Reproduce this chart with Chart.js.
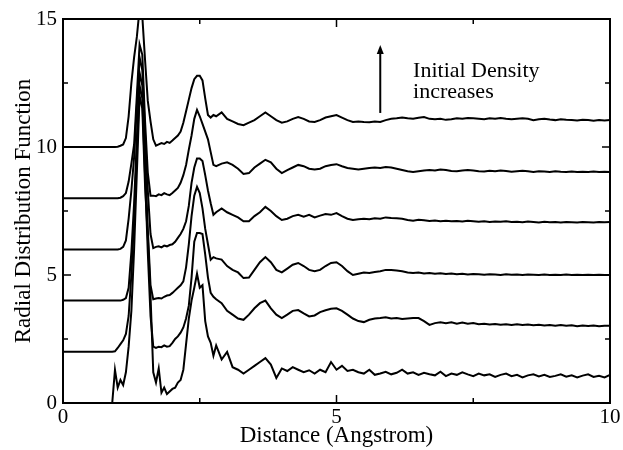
<!DOCTYPE html>
<html>
<head>
<meta charset="utf-8">
<title>Radial Distribution Function</title>
<script src="https://cdn.jsdelivr.net/npm/chart.js@4.4.1/dist/chart.umd.min.js"></script>
<style>
  html, body { margin: 0; padding: 0; background: #fff; }
  canvas { display: block; }
</style>
</head>
<body>
<canvas id="rdf" width="623" height="450"></canvas>
<script>
// r grid shared by every run (Angstrom)
const distance = [
  0, 0.8, 0.9, 0.95, 1.0, 1.05, 1.1, 1.15, 1.2, 1.25, 1.3, 1.35, 1.4,
  1.45, 1.5, 1.55, 1.6, 1.65, 1.7, 1.75, 1.8, 1.85, 1.9, 1.95, 2.0,
  2.05, 2.1, 2.15, 2.2, 2.25, 2.3, 2.35, 2.4, 2.45, 2.5, 2.55, 2.6,
  2.65, 2.7, 2.75, 2.8, 2.9, 3.0,
  3.1, 3.2, 3.3, 3.4, 3.5, 3.6, 3.7, 3.8, 3.9, 4.0,
  4.1, 4.2, 4.3, 4.4, 4.5, 4.6, 4.7, 4.8, 4.9, 5.0,
  5.1, 5.2, 5.3, 5.4, 5.5, 5.6, 5.7, 5.8, 5.9, 6.0,
  6.1, 6.2, 6.3, 6.4, 6.5, 6.6, 6.7, 6.8, 6.9, 7.0,
  7.1, 7.2, 7.3, 7.4, 7.5, 7.6, 7.7, 7.8, 7.9, 8.0,
  8.1, 8.2, 8.3, 8.4, 8.5, 8.6, 8.7, 8.8, 8.9, 9.0,
  9.1, 9.2, 9.3, 9.4, 9.5, 9.6, 9.7, 9.8, 9.9, 10.0
];

// g(r) of each run as plotted, lowest initial density first (stacked by 2)
const rdfRun1 = [
  0, 0, 0, 1.3, 0.6, 0.9, 0.7, 1.2, 2.2, 3.6, 6.0, 9.0, 12.0,
  11.5, 8.5, 6.5, 4.2, 1.2, 0.8, 1.35, 0.4, 0.6, 0.35, 0.45, 0.55,
  0.6, 0.8, 0.9, 1.3, 2.3, 3.3, 4.0, 4.5, 5.05, 4.5, 4.6, 3.2,
  2.6, 2.35, 1.85, 2.25, 1.7, 2.0,
  1.4, 1.3, 1.15, 1.3, 1.45, 1.6, 1.75, 1.5, 0.98, 1.35,
  1.25, 1.4, 1.3, 1.2, 1.28, 1.15, 1.3, 1.2, 1.6, 1.3,
  1.45, 1.25, 1.3, 1.2, 1.15, 1.3, 1.1, 1.15, 1.22, 1.12,
  1.18, 1.3, 1.15, 1.2, 1.1, 1.18, 1.12, 1.08, 1.22, 1.05,
  1.15, 1.1, 1.2, 1.12, 1.05, 1.15, 1.08, 1.12, 1.02, 1.1,
  1.15, 1.05, 1.1, 1.0, 1.08, 1.12, 1.04, 1.1, 1.02, 1.06,
  1.12, 1.03, 1.08, 1.0, 1.07, 1.12, 1.02, 1.06, 1.0, 1.1
];
const rdfRun2 = [
  2.0, 2.0, 2.0, 2.02, 2.15, 2.3, 2.45, 2.7, 3.4, 5.0, 7.2, 9.8, 12.4,
  11.9, 8.9, 5.9, 3.4, 2.2, 2.15, 2.2, 2.18, 2.25, 2.2, 2.22, 2.35,
  2.5, 2.6, 2.75, 2.95, 3.3, 3.8, 4.9, 6.3, 6.64, 6.64, 6.6, 5.8,
  4.9, 4.3, 4.15, 4.05, 3.9, 3.6,
  3.45, 3.3, 3.25, 3.45, 3.7, 3.9, 4.0, 3.7, 3.45, 3.32,
  3.45, 3.6, 3.63, 3.5, 3.38, 3.42, 3.55, 3.62, 3.68, 3.7,
  3.6, 3.45, 3.3, 3.2, 3.16, 3.25, 3.3, 3.32, 3.35, 3.3,
  3.32, 3.28, 3.3, 3.32, 3.32, 3.2, 3.05, 3.12, 3.15, 3.12,
  3.15, 3.1, 3.14, 3.1, 3.12, 3.08, 3.1, 3.07, 3.09, 3.06,
  3.08, 3.05, 3.08, 3.05, 3.07, 3.04, 3.06, 3.03, 3.05, 3.02,
  3.05, 3.02, 3.04, 3.0, 3.03, 3.01, 3.03, 3.0, 3.02, 3.02
];
const rdfRun3 = [
  4.0, 4.0, 4.0, 4.0, 4.0, 4.0, 4.03, 4.1, 4.5, 5.9, 7.8, 10.3, 12.9,
  12.4, 9.6, 6.8, 4.6, 4.05, 4.08, 4.1, 4.08, 4.15, 4.2, 4.22, 4.3,
  4.4, 4.5, 4.6, 4.75, 5.3, 6.2, 7.3, 8.1, 8.44, 8.2, 7.6, 6.8,
  6.2, 5.6, 5.7, 5.65, 5.6, 5.35,
  5.2, 5.1, 4.88, 4.9, 5.2, 5.5, 5.7, 5.5, 5.2, 5.1,
  5.25, 5.4, 5.47, 5.35, 5.2, 5.15, 5.2, 5.35, 5.47, 5.5,
  5.35, 5.15, 5.0, 5.05, 5.1, 5.08, 5.12, 5.15, 5.2, 5.2,
  5.18, 5.15, 5.1, 5.08, 5.1, 5.06, 5.08, 5.05, 5.07, 5.04,
  5.06, 5.03, 5.05, 5.02, 5.04, 5.03, 5.01, 5.03, 5.02, 5.0,
  5.03, 5.01, 5.02, 5.0, 5.02, 5.01, 5.0, 5.02, 5.0, 5.01,
  5.0, 5.02, 5.0, 5.01, 5.0, 5.01, 5.0, 5.01, 5.0, 5.0
];
const rdfRun4 = [
  6.0, 6.0, 6.0, 6.0, 6.0, 6.02, 6.1, 6.35, 7.2, 8.3, 9.6, 11.6, 13.5,
  13.0, 10.5, 8.3, 6.6, 6.05, 6.1, 6.12, 6.08, 6.15, 6.12, 6.17, 6.2,
  6.3, 6.45, 6.6, 6.8, 7.1, 7.7, 8.6, 9.2, 9.55, 9.55, 9.45, 8.9,
  8.3, 7.8, 7.35, 7.45, 7.6, 7.45,
  7.35, 7.25, 7.1, 7.1, 7.3, 7.45, 7.66, 7.5, 7.3, 7.15,
  7.2, 7.3, 7.35, 7.28, 7.35, 7.25, 7.32, 7.38, 7.35, 7.42,
  7.3, 7.2, 7.15, 7.18, 7.2, 7.18, 7.22, 7.2, 7.25, 7.23,
  7.22, 7.2, 7.15, 7.12, 7.16, 7.14, 7.11, 7.13, 7.1, 7.12,
  7.1, 7.11, 7.09, 7.12, 7.1, 7.08, 7.1, 7.07, 7.09, 7.08,
  7.1, 7.07, 7.08, 7.06, 7.09, 7.07, 7.05, 7.08, 7.06, 7.07,
  7.05, 7.07, 7.06, 7.05, 7.07, 7.06, 7.05, 7.07, 7.06, 7.07
];
const rdfRun5 = [
  8.0, 8.0, 8.0, 8.0, 8.0, 8.02, 8.08, 8.2, 8.65, 9.35, 10.1, 12.0, 14.0,
  13.6, 11.0, 9.0, 8.1, 8.1, 8.08, 8.15, 8.12, 8.2, 8.15, 8.12, 8.2,
  8.3, 8.4, 8.6, 8.9, 9.3, 9.9, 10.45, 11.1, 11.45, 11.2, 10.9, 10.6,
  10.3, 9.8, 9.3, 9.25, 9.35, 9.4,
  9.3, 9.15, 8.95, 8.98, 9.2, 9.35, 9.5, 9.4, 9.15, 8.98,
  9.1, 9.2, 9.3, 9.25, 9.15, 9.12, 9.15, 9.25, 9.3, 9.33,
  9.25, 9.18, 9.15, 9.12, 9.15, 9.18, 9.2, 9.18, 9.22, 9.2,
  9.15, 9.1, 9.05, 9.02, 9.05, 9.08, 9.1, 9.08, 9.12, 9.1,
  9.06, 9.05, 9.08, 9.1, 9.08, 9.05, 9.04, 9.07, 9.05, 9.08,
  9.06, 9.03, 9.05, 9.07, 9.05, 9.02, 9.05, 9.04, 9.02, 9.05,
  9.03, 9.02, 9.04, 9.02, 9.03, 9.02, 9.04, 9.02, 9.03, 9.02
];
const rdfRun6 = [
  10.0, 10.0, 10.0, 10.0, 10.01, 10.05, 10.1, 10.35, 11.2, 12.5, 13.5, 14.3, 15.4,
  15.1, 13.4, 11.8, 11.0, 10.3, 10.05, 10.1, 10.15, 10.12, 10.2, 10.16, 10.25,
  10.35, 10.45, 10.6, 10.95, 11.4, 11.85, 12.3, 12.65, 12.78, 12.78, 12.6, 11.9,
  11.25, 11.15, 11.25, 11.2, 11.35, 11.1,
  11.0, 10.9, 10.85, 10.95, 11.05, 11.2, 11.35, 11.2, 11.05, 10.95,
  11.0, 11.1, 11.17, 11.1, 11.0, 10.98, 11.05, 11.15, 11.2, 11.25,
  11.15, 11.05, 10.98, 11.0, 10.98, 10.97, 11.0, 10.98, 11.05, 11.1,
  11.12, 11.15, 11.12, 11.1, 11.14, 11.17, 11.1, 11.08, 11.1, 11.06,
  11.08, 11.12, 11.1, 11.13, 11.12, 11.1, 11.08, 11.12, 11.1, 11.13,
  11.1, 11.08, 11.1, 11.12, 11.1, 11.05, 11.08, 11.1, 11.07, 11.05,
  11.08, 11.06, 11.05, 11.04, 11.06, 11.05, 11.03, 11.05, 11.04, 11.05
];

const runs = [rdfRun1, rdfRun2, rdfRun3, rdfRun4, rdfRun5, rdfRun6];

const xTicks = [0, 5, 10];
const xMinorTicks = [2.5, 7.5];
const yTicks = [0, 5, 10, 15];
const yMinorTicks = [2.5, 7.5, 12.5];

const noteLines = ['Initial Density', 'increases'];

const serif = "'Liberation Serif', 'Times New Roman', serif";

// box frame, inward ticks on all four sides, arrow and note
const frameAndNotes = {
  id: 'frameAndNotes',
  afterDatasetsDraw(chart) {
    const { ctx, chartArea: { left, right, top, bottom }, scales: { x, y } } = chart;
    ctx.save();
    ctx.strokeStyle = '#000';
    ctx.fillStyle = '#000';

    ctx.lineWidth = 1.5;
    ctx.beginPath();
    const tickX = (v, len) => {
      const px = x.getPixelForValue(v);
      ctx.moveTo(px, bottom); ctx.lineTo(px, bottom - len);
      ctx.moveTo(px, top); ctx.lineTo(px, top + len);
    };
    const tickY = (v, len) => {
      const py = y.getPixelForValue(v);
      ctx.moveTo(left, py); ctx.lineTo(left + len, py);
      ctx.moveTo(right, py); ctx.lineTo(right - len, py);
    };
    xTicks.forEach(v => tickX(v, 8));
    xMinorTicks.forEach(v => tickX(v, 5));
    yTicks.forEach(v => tickY(v, 8));
    yMinorTicks.forEach(v => tickY(v, 5));
    ctx.stroke();

    ctx.lineWidth = 2;
    ctx.strokeRect(left, top, right - left, bottom - top);

    // arrow pointing up
    const ax = x.getPixelForValue(5.8);
    const ay0 = y.getPixelForValue(11.33);
    const ay1 = y.getPixelForValue(13.98);
    ctx.lineWidth = 2;
    ctx.beginPath();
    ctx.moveTo(ax, ay0);
    ctx.lineTo(ax, ay1 + 6);
    ctx.stroke();
    ctx.beginPath();
    ctx.moveTo(ax, ay1);
    ctx.lineTo(ax - 3.5, ay1 + 9);
    ctx.lineTo(ax + 3.5, ay1 + 9);
    ctx.closePath();
    ctx.fill();

    ctx.font = '22px ' + serif;
    ctx.textAlign = 'left';
    ctx.textBaseline = 'alphabetic';
    const tx = x.getPixelForValue(6.4);
    ctx.fillText(noteLines[0], tx, y.getPixelForValue(12.73));
    ctx.fillText(noteLines[1], tx, y.getPixelForValue(11.91));
    ctx.restore();
  }
};

new Chart(document.getElementById('rdf'), {
  type: 'line',
  data: {
    datasets: runs.map((run, i) => ({
      label: 'run ' + (i + 1),
      data: distance.map((r, k) => ({ x: r, y: run[k] })),
      borderColor: '#000',
      borderWidth: 2,
      pointRadius: 0,
      fill: false,
      tension: 0,
    })),
  },
  options: {
    responsive: false,
    animation: false,
    layout: { padding: { top: 19, right: 13, left: 0, bottom: 0 } },
    plugins: {
      legend: { display: false },
      tooltip: { enabled: false },
    },
    scales: {
      x: {
        type: 'linear',
        min: 0,
        max: 10,
        afterFit(scale) { scale.height = 47; },
        grid: { display: false, drawTicks: false },
        border: { display: false },
        ticks: {
          stepSize: 5,
          padding: 2,
          maxRotation: 0,
          color: '#000',
          font: { family: serif, size: 21 },
        },
        title: {
          display: true,
          text: 'Distance (Angstrom)',
          color: '#000',
          font: { family: serif, size: 23 },
          padding: { top: 0, bottom: 0 },
        },
      },
      y: {
        type: 'linear',
        min: 0,
        max: 15,
        afterFit(scale) { scale.width = 63; },
        grid: { display: false, drawTicks: false },
        border: { display: false },
        ticks: {
          stepSize: 5,
          padding: 6,
          color: '#000',
          font: { family: serif, size: 21 },
        },
        title: {
          display: true,
          text: 'Radial Distribution Function',
          color: '#000',
          font: { family: serif, size: 23 },
          padding: { top: 10, bottom: 0 },
        },
      },
    },
  },
  plugins: [frameAndNotes],
});
</script>
</body>
</html>
